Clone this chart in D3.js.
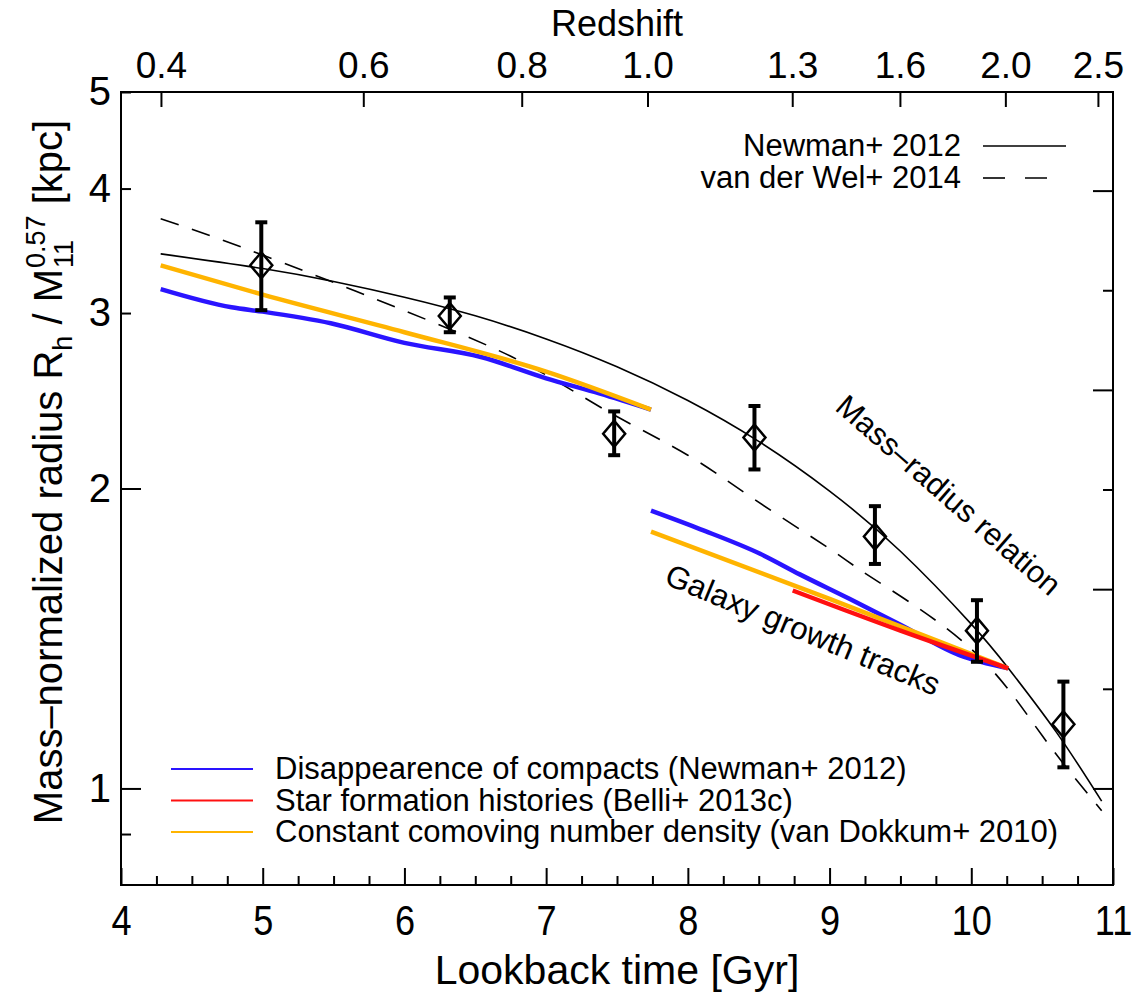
<!DOCTYPE html>
<html>
<head>
<meta charset="utf-8">
<script src="https://cdn.jsdelivr.net/npm/d3@7/dist/d3.min.js"></script>
<style>
  html, body { margin: 0; padding: 0; background: #fff; }
  svg { display: block; font-family: "Liberation Sans", Arial, Helvetica, sans-serif; }
  text { white-space: pre; }
</style>
</head>
<body>
<svg id="chart" width="1136" height="994"></svg>
<script>
// ---- data -------------------------------------------------------------
// redshift labels on the top axis
const redshiftTicks = [0.4, 0.6, 0.8, 1.0, 1.3, 1.6, 2.0, 2.5];
const lookbackMajor = [4, 5, 6, 7, 8, 9, 10, 11];

// measured mass-normalized radii (lookback time, value, error range)
const obsTime  = [4.99, 6.32, 7.48, 8.47, 9.32, 10.04, 10.65];
const obsR     = [3.35, 2.98, 2.27, 2.25, 1.79, 1.44, 1.16];
const obsHi    = [3.70, 3.11, 2.39, 2.42, 1.92, 1.545, 1.28];
const obsLo    = [3.02, 2.87, 2.16, 2.09, 1.68, 1.34, 1.05];

// mass-radius relations
const newmanT = [4.28, 5.0, 5.5, 6.0, 6.5, 7.0, 7.5, 8.0, 8.5, 9.0, 9.5, 10.0, 10.26, 10.6, 10.92];
const newmanR = [3.44, 3.325, 3.227, 3.112, 2.981, 2.826, 2.650, 2.451, 2.230, 1.988, 1.730, 1.462, 1.321, 1.139, 0.971];
const vdwT = [4.28, 5.0, 6.32, 7.0, 7.48, 8.0, 8.47, 9.0, 9.32, 10.0, 10.5, 10.92];
const vdwR = [3.73, 3.43, 2.89, 2.60, 2.37, 2.16, 1.95, 1.74, 1.62, 1.38, 1.13, 0.95];

// galaxy growth tracks
const blueLowT = [4.28, 4.78, 5.0, 5.48, 6.0, 6.54, 7.0, 7.38, 7.74];
const blueLowR = [3.17, 3.04, 3.01, 2.93, 2.80, 2.71, 2.58, 2.49, 2.40];
const orangeLowT = [4.28, 5.0, 6.0, 7.0, 7.74];
const orangeLowR = [3.35, 3.13, 2.87, 2.62, 2.40];
const blueHighT = [7.74, 8.09, 8.51, 8.79, 9.14, 9.50, 9.92, 10.26];
const blueHighR = [1.90, 1.82, 1.72, 1.64, 1.55, 1.46, 1.36, 1.32];
const orangeHighT = [7.74, 9.0, 10.26];
const orangeHighR = [1.81, 1.55, 1.32];
const redT = [8.74, 9.5, 10.26];
const redR = [1.58, 1.44, 1.32];

const trackLegend = [
  { label: "Disappearence of compacts (Newman+ 2012)", color: "#2a14ff" },
  { label: "Star formation histories (Belli+ 2013c)", color: "#ff1010" },
  { label: "Constant comoving number density (van Dokkum+ 2010)", color: "#ffb400" }
];

// ---- helpers ------------------------------------------------------------
// lookback time in Gyr for a flat LCDM cosmology (H0 = 70, Om = 0.3)
function lookback(z) {
  const H0inv = 977.8 / 70, om = 0.3, ol = 0.7, n = 400;
  const f = zz => 1 / ((1 + zz) * Math.sqrt(om * Math.pow(1 + zz, 3) + ol));
  let s = f(0) + f(z);
  const h = z / n;
  for (let i = 1; i < n; i++) s += (i % 2 ? 4 : 2) * f(i * h);
  return H0inv * s * h / 3;
}
const zip = (a, b) => a.map((v, i) => [v, b[i]]);

// ---- layout -------------------------------------------------------------
const svg = d3.select("#chart");
const x = d3.scaleLinear().domain([4, 11]).range([121, 1113]);
const y = d3.scaleLog().domain([0.8, 5]).range([885, 92]);

const black = "#000";

// frame
svg.append("rect")
  .attr("x", x(4)).attr("y", y(5))
  .attr("width", x(11) - x(4)).attr("height", y(0.8) - y(5))
  .attr("fill", "none").attr("stroke", black).attr("stroke-width", 2);

function styleAxis(g, fontSize) {
  g.select(".domain").remove();
  g.selectAll(".tick line").attr("stroke", black).attr("stroke-width", 2);
  g.selectAll(".tick text").attr("fill", black).attr("font-size", fontSize)
    .attr("font-family", "'Liberation Sans', Arial, sans-serif");
}

// bottom axis: lookback time
const minorT = d3.range(4, 11.001, 0.25).filter(v => Math.abs(v - Math.round(v)) > 1e-6);
svg.append("g").attr("transform", `translate(0,${y(0.8)})`)
  .call(d3.axisBottom(x).tickValues(minorT).tickSize(-9).tickFormat(""))
  .call(g => styleAxis(g, 0));
svg.append("g").attr("transform", `translate(0,${y(0.8)})`)
  .call(d3.axisBottom(x).tickValues(lookbackMajor).tickSize(-17).tickPadding(20).tickFormat(d3.format("d")))
  .call(g => styleAxis(g, 42))
  .call(g => g.selectAll(".tick text").attr("transform", "scale(0.86,1)"));

// top axis: redshift
svg.append("g").attr("transform", `translate(0,${y(5)})`)
  .call(d3.axisTop(x)
    .tickValues(redshiftTicks.map(lookback)).tickSize(-15).tickPadding(14)
    .tickFormat((d, i) => d3.format(".1f")(redshiftTicks[i])))
  .call(g => styleAxis(g, 37));

// left axis
svg.append("g").attr("transform", `translate(${x(4)},0)`)
  .call(d3.axisLeft(y).tickValues([1, 2]).tickSize(-20).tickPadding(10).tickFormat(d3.format("d")))
  .call(g => styleAxis(g, 40));
svg.append("g").attr("transform", `translate(${x(4)},0)`)
  .call(d3.axisLeft(y).tickValues([3, 4, 5]).tickSize(-10).tickPadding(10).tickFormat(d3.format("d")))
  .call(g => styleAxis(g, 40));
svg.append("g").attr("transform", `translate(${x(4)},0)`)
  .call(d3.axisLeft(y).tickValues([0.9]).tickSize(-10).tickFormat(""))
  .call(g => styleAxis(g, 0));

// right axis: ticks every 0.1 dex
const dexTicks = d3.range(0, 7).map(k => Math.pow(10, k / 10));
svg.append("g").attr("transform", `translate(${x(11)},0)`)
  .call(d3.axisRight(y).tickValues(dexTicks.filter((d, i) => i % 2 === 0)).tickSize(-20).tickFormat(""))
  .call(g => styleAxis(g, 0));
svg.append("g").attr("transform", `translate(${x(11)},0)`)
  .call(d3.axisRight(y).tickValues(dexTicks.filter((d, i) => i % 2 === 1)).tickSize(-10).tickFormat(""))
  .call(g => styleAxis(g, 0));

// axis titles
svg.append("text")
  .attr("x", (x(4) + x(11)) / 2).attr("y", 36)
  .attr("text-anchor", "middle").attr("font-size", 36).attr("fill", black)
  .text("Redshift");
svg.append("text")
  .attr("x", (x(4) + x(11)) / 2).attr("y", 984)
  .attr("text-anchor", "middle").attr("font-size", 41).attr("fill", black)
  .text("Lookback time [Gyr]");

// y title with sub/superscripts, laid out piece by piece
(function () {
  const g = svg.append("g");
  const pieces = [
    { t: "Mass\u2013normalized radius R", size: 40, dy: 0 },
    { t: "h", size: 27, dy: 10 },
    { t: " / M", size: 40, dy: 0 },
    { stack: [{ t: "0.57", size: 27, dy: -17 }, { t: "11", size: 27, dy: 11 }] },
    { t: " [kpc]", size: 40, dy: 0 }
  ];
  let cx = 0;
  pieces.forEach(p => {
    if (p.stack) {
      let w = 0;
      p.stack.forEach(s => {
        const el = g.append("text").attr("x", cx + 1).attr("y", s.dy)
          .attr("font-size", s.size).attr("fill", black).text(s.t);
        w = Math.max(w, el.node().getComputedTextLength());
      });
      cx += w + 1;
    } else {
      const el = g.append("text").attr("x", cx).attr("y", p.dy)
        .attr("font-size", p.size).attr("fill", black).text(p.t);
      cx += el.node().getComputedTextLength();
    }
  });
  g.attr("transform", `translate(62,${472 + cx / 2}) rotate(-90)`);
})();

// ---- curves -------------------------------------------------------------
const smooth = d3.line().x(d => x(d[0])).y(d => y(d[1])).curve(d3.curveNatural);
const track = d3.line().x(d => x(d[0])).y(d => y(d[1])).curve(d3.curveMonotoneX);

svg.append("path").datum(zip(vdwT, vdwR)).attr("d", smooth)
  .attr("fill", "none").attr("stroke", black).attr("stroke-width", 1.6)
  .attr("stroke-dasharray", "19,14");
svg.append("path").datum(zip(newmanT, newmanR)).attr("d", smooth)
  .attr("fill", "none").attr("stroke", black).attr("stroke-width", 1.6);

const tracks = [
  [blueLowT, blueLowR, trackLegend[0].color],
  [orangeLowT, orangeLowR, trackLegend[2].color],
  [blueHighT, blueHighR, trackLegend[0].color],
  [orangeHighT, orangeHighR, trackLegend[2].color],
  [redT, redR, trackLegend[1].color]
];
tracks.forEach(([t, r, c]) => {
  svg.append("path").datum(zip(t, r)).attr("d", track)
    .attr("fill", "none").attr("stroke", c).attr("stroke-width", 4.5)
    .attr("stroke-linejoin", "round");
});

// ---- observations: error bars and open diamonds --------------------------
const obs = obsTime.map((t, i) => ({ t, r: obsR[i], hi: obsHi[i], lo: obsLo[i] }));
const og = svg.append("g");
og.selectAll("line.err").data(obs).join("line")
  .attr("x1", d => x(d.t)).attr("x2", d => x(d.t))
  .attr("y1", d => y(d.hi)).attr("y2", d => y(d.lo))
  .attr("stroke", black).attr("stroke-width", 4);
["hi", "lo"].forEach(k => {
  og.selectAll("line.cap" + k).data(obs).join("line")
    .attr("x1", d => x(d.t) - 6).attr("x2", d => x(d.t) + 6)
    .attr("y1", d => y(d[k])).attr("y2", d => y(d[k]))
    .attr("stroke", black).attr("stroke-width", 4);
});
og.selectAll("path.dia").data(obs).join("path")
  .attr("d", d => {
    const cx = x(d.t), cy = y(d.r), w = 11, h = 13;
    return `M${cx},${cy - h}L${cx + w},${cy}L${cx},${cy + h}L${cx - w},${cy}Z`;
  })
  .attr("fill", "none").attr("stroke", black).attr("stroke-width", 2.5);

// ---- annotations ----------------------------------------------------------
svg.append("text")
  .attr("transform", "translate(947,497) rotate(41)")
  .attr("text-anchor", "middle").attr("dominant-baseline", "middle")
  .attr("font-size", 31).attr("fill", black).text("Mass\u2013radius relation");
svg.append("text")
  .attr("transform", "translate(802,632) rotate(22.5)")
  .attr("text-anchor", "middle").attr("dominant-baseline", "middle")
  .attr("font-size", 31.5).attr("fill", black).text("Galaxy growth tracks");

// ---- legends --------------------------------------------------------------
const relLegend = [
  { label: "Newman+ 2012", dash: null, y: 146 },
  { label: "van der Wel+ 2014", dash: "22,20", y: 178 }
];
relLegend.forEach(d => {
  svg.append("text").attr("x", 961).attr("y", d.y + 10)
    .attr("text-anchor", "end").attr("font-size", 31).attr("fill", black).text(d.label);
  svg.append("line").attr("x1", 983).attr("x2", 1066).attr("y1", d.y).attr("y2", d.y)
    .attr("stroke", black).attr("stroke-width", 1.6)
    .attr("stroke-dasharray", d.dash);
});

trackLegend.forEach((d, i) => {
  const ly = 769 + i * 31.5;
  svg.append("line").attr("x1", 171).attr("x2", 253).attr("y1", ly).attr("y2", ly)
    .attr("stroke", d.color).attr("stroke-width", 2.2);
  svg.append("text").attr("x", 275).attr("y", ly + 10)
    .attr("font-size", 31).attr("fill", black).text(d.label);
});
</script>
</body>
</html>
